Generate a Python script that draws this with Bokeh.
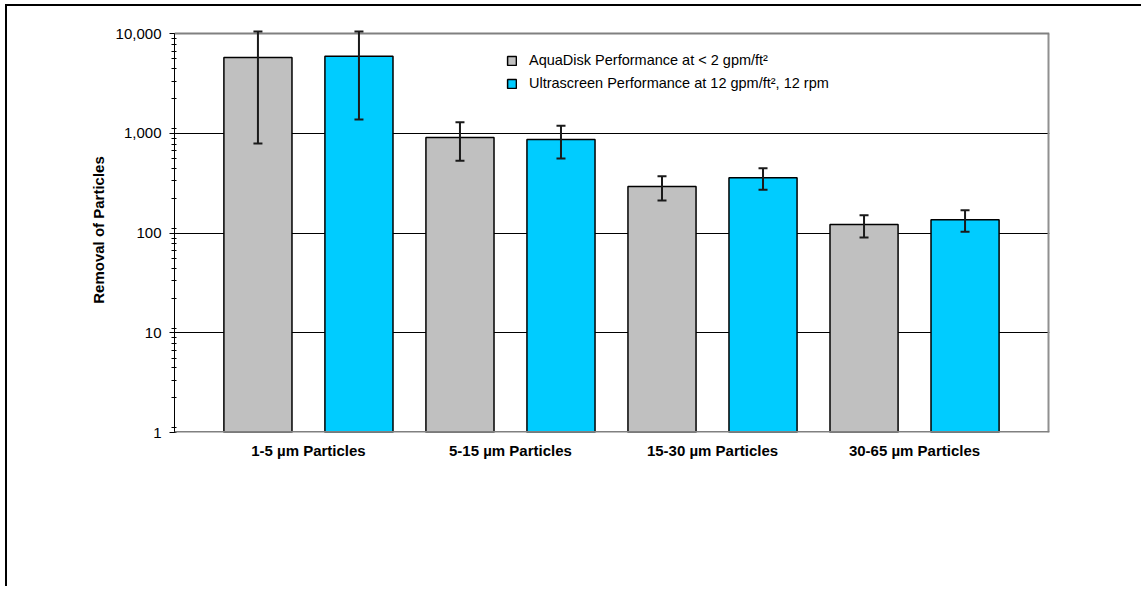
from bokeh.plotting import figure
from bokeh.models import (ColumnDataSource, Whisker, TeeHead, FixedTicker, NumeralTickFormatter,
                          Legend, LegendItem, Range1d, LogTicker, Span)
from bokeh.transform import dodge
from bokeh.embed import file_html
from bokeh.resources import INLINE

# ---- data ----
categories = ["1-5 \u00b5m Particles", "5-15 \u00b5m Particles", "15-30 \u00b5m Particles", "30-65 \u00b5m Particles"]
series_names = ["AquaDisk Performance at < 2 gpm/ft\u00b2", "Ultrascreen Performance at 12 gpm/ft\u00b2, 12 rpm"]
aquadisk = [5750, 905, 292, 122]
aquadisk_hi = [10500, 1290, 371, 151]
aquadisk_lo = [790, 530, 212, 90]
ultra = [5920, 865, 357, 136]
ultra_hi = [10450, 1190, 447, 169]
ultra_lo = [1375, 558, 271, 103]
y_title = "Removal of Particles"
y_min, y_max = 1, 10000

FONT = "Liberation Sans"
idx = list(range(len(categories)))

src_a = ColumnDataSource(dict(idx=idx, top=aquadisk, hi=aquadisk_hi, lo=aquadisk_lo))
src_u = ColumnDataSource(dict(idx=idx, top=ultra, hi=ultra_hi, lo=ultra_lo))

x_start, x_end = -0.663, 3.668
y_headroom = 10 ** (6 / 99.75)   # small space above the top so error caps are not clipped

p = figure(width=1136, height=582, x_range=Range1d(x_start, x_end),
           y_range=Range1d(y_min, y_max * y_headroom),
           y_axis_type="log", output_backend="svg", toolbar_location=None,
           min_border_left=167, min_border_right=94, min_border_top=21, min_border_bottom=156)
p.styles = {"border-left": "2px solid black", "border-top": "2px solid black",
            "margin-left": "5px", "margin-top": "4px"}

p.outline_line_color = None
p.background_fill_color = "white"
p.border_fill_color = "white"

# frame lines (top at 10,000, bottom at 1, right edge)
p.add_layout(Span(location=y_max, dimension="width", line_color="#808080", line_width=2))
p.add_layout(Span(location=y_min, dimension="width", line_color="#808080", line_width=3))
p.segment(x0=[x_end], x1=[x_end], y0=[y_min], y1=[y_max], line_color="#909090", line_width=4)

bw = 0.337
off = 0.25
r_a = p.vbar(x=dodge("idx", -off), top="top", bottom=y_min, width=bw, source=src_a,
             fill_color="#C0C0C0", line_color="black", line_width=1.5)
r_u = p.vbar(x=dodge("idx", off), top="top", bottom=y_min, width=bw, source=src_u,
             fill_color="#00CCFF", line_color="black", line_width=1.5)

for src, d in ((src_a, -off), (src_u, off)):
    w = Whisker(base=dodge("idx", d), upper="hi", lower="lo", source=src,
                line_color="#1a1a1a", line_width=2, level="overlay",
                upper_head=TeeHead(size=9, line_color="#1a1a1a", line_width=2),
                lower_head=TeeHead(size=9, line_color="#1a1a1a", line_width=2))
    p.add_layout(w)

# grid
p.xgrid.visible = False
p.ygrid.ticker = FixedTicker(ticks=[10, 100, 1000])
p.ygrid.grid_line_color = "black"
p.ygrid.grid_line_width = 1

# y axis
yax = p.yaxis[0]
yax.ticker = LogTicker(num_minor_ticks=9)
yax.bounds = (y_min, y_max)
yax.formatter = NumeralTickFormatter(format="0,0")
yax.axis_line_color = "black"
yax.major_tick_line_color = "black"
yax.minor_tick_line_color = "black"
yax.major_tick_out = 5
yax.major_tick_in = 0
yax.minor_tick_out = 3
yax.minor_tick_in = 2
yax.major_label_text_font = FONT
yax.major_label_text_font_size = "15px"
yax.major_label_text_color = "black"
yax.major_label_standoff = 8
yax.axis_label = y_title
yax.axis_label_text_font = FONT
yax.axis_label_text_font_style = "bold"
yax.axis_label_text_font_size = "15px"
yax.axis_label_text_color = "black"
yax.axis_label_standoff = 6

# x axis
xax = p.xaxis[0]
xax.ticker = FixedTicker(ticks=idx)
xax.major_label_overrides = {i: c for i, c in zip(idx, categories)}
xax.axis_line_color = None
xax.major_tick_line_color = None
xax.minor_tick_line_color = None
xax.major_label_text_font = FONT
xax.major_label_text_font_style = "bold"
xax.major_label_text_font_size = "15px"
xax.major_label_text_color = "black"
xax.major_label_standoff = 3

legend = Legend(items=[LegendItem(label=series_names[0], renderers=[r_a]),
                       LegendItem(label=series_names[1], renderers=[r_u])],
                location=(332, 341), border_line_color=None, background_fill_alpha=0,
                padding=0, margin=0, spacing=7, glyph_width=11, glyph_height=11,
                label_height=11, label_standoff=12, label_text_font=FONT,
                label_text_font_size="14.5px", label_text_color="black",
                label_text_baseline="middle")
p.add_layout(legend)

open("out.html", "w").write(file_html(p, INLINE))
